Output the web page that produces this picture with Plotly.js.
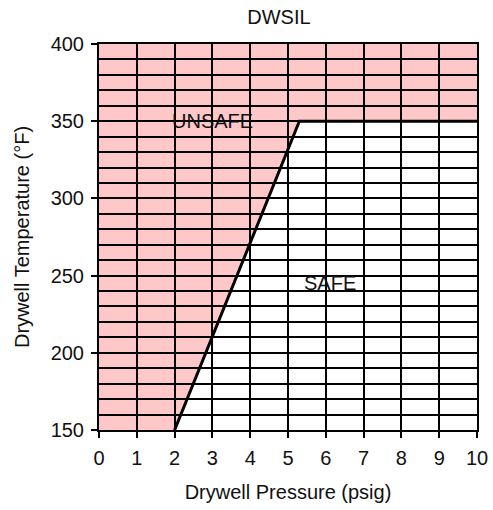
<!DOCTYPE html>
<html><head><meta charset="utf-8">
<script src="https://cdn.plot.ly/plotly-3.0.1.min.js"></script>
<style>html,body{margin:0;padding:0;background:#fff}#chart{width:493px;height:510px}</style>
</head><body><div id="chart"></div>
<script>
const boundaryPressure = [2, 5.3, 10];
const boundaryTemp = [150, 350, 350];
const xRange = [0, 10];
const yRange = [150, 400];
const xTickVals = [0, 1, 2, 3, 4, 5, 6, 7, 8, 9, 10];
const yTickVals = [150, 200, 250, 300, 350, 400];
const regionLabels = ['UNSAFE', 'SAFE'];
const labelPressure = [3.0, 6.1];
const labelTemp = [350, 245];

const pts = [[xRange[0], yRange[0]]];
boundaryPressure.forEach((p, i) => pts.push([p, boundaryTemp[i]]));
pts.push([xRange[1], yRange[1]]);
pts.push([xRange[0], yRange[1]]);
const unsafePath = 'M ' + pts.map(p => p[0] + ',' + p[1]).join(' L ') + ' Z';

const FONT = '"Liberation Sans", Arial, sans-serif';
const FS = 20;

const traces = [{
  type: 'scatter', mode: 'lines',
  x: boundaryPressure, y: boundaryTemp,
  line: {color: '#000', width: 3},
  hoverinfo: 'skip', showlegend: false
}];

const layout = {
  width: 493, height: 510,
  margin: {l: 99, r: 16, t: 44, b: 80},
  paper_bgcolor: '#fff', plot_bgcolor: '#fff',
  font: {family: FONT, size: FS, color: '#111'},
  showlegend: false,
  title: {text: 'DWSIL', font: {family: FONT, size: FS, color: '#111'},
          x: 0.476, xref: 'paper', xanchor: 'center', y: 0.966, yref: 'container', yanchor: 'middle'},
  xaxis: {
    range: xRange, tickvals: xTickVals, ticktext: xTickVals.map(String),
    showgrid: true, gridcolor: '#000', gridwidth: 2,
    showline: true, linecolor: '#000', linewidth: 2, mirror: true,
    ticks: 'outside', ticklen: 6, tickwidth: 2, tickcolor: '#000',
    ticklabelstandoff: 3,
    zeroline: false, fixedrange: true,
    tickfont: {family: FONT, size: FS, color: '#111'},
    title: {text: 'Drywell Pressure (psig)', font: {family: FONT, size: FS, color: '#111'}, standoff: 17}
  },
  yaxis: {
    range: yRange, tickvals: yTickVals, ticktext: yTickVals.map(String),
    showgrid: true, gridcolor: '#000', gridwidth: 2,
    minor: {dtick: 10, tick0: 150, showgrid: true, gridcolor: '#000', gridwidth: 2, ticks: ''},
    showline: true, linecolor: '#000', linewidth: 2, mirror: true,
    ticks: 'outside', ticklen: 6, tickwidth: 2, tickcolor: '#000',
    ticklabelstandoff: 3,
    zeroline: false, fixedrange: true,
    tickfont: {family: FONT, size: FS, color: '#111'},
    title: {text: 'Drywell Temperature (°F)', font: {family: FONT, size: FS, color: '#111'}, standoff: 16}
  },
  shapes: [{
    type: 'path', xref: 'x', yref: 'y', path: unsafePath,
    fillcolor: '#ffc8c8', line: {width: 0}, layer: 'below'
  }],
  annotations: regionLabels.map((t, i) => ({
    x: labelPressure[i], y: labelTemp[i], xref: 'x', yref: 'y',
    text: t, showarrow: false, xanchor: 'center', yanchor: 'middle',
    font: {family: FONT, size: FS, color: '#111'}
  }))
};

Plotly.newPlot('chart', traces, layout, {displayModeBar: false, staticPlot: true});
</script>
</body></html>
